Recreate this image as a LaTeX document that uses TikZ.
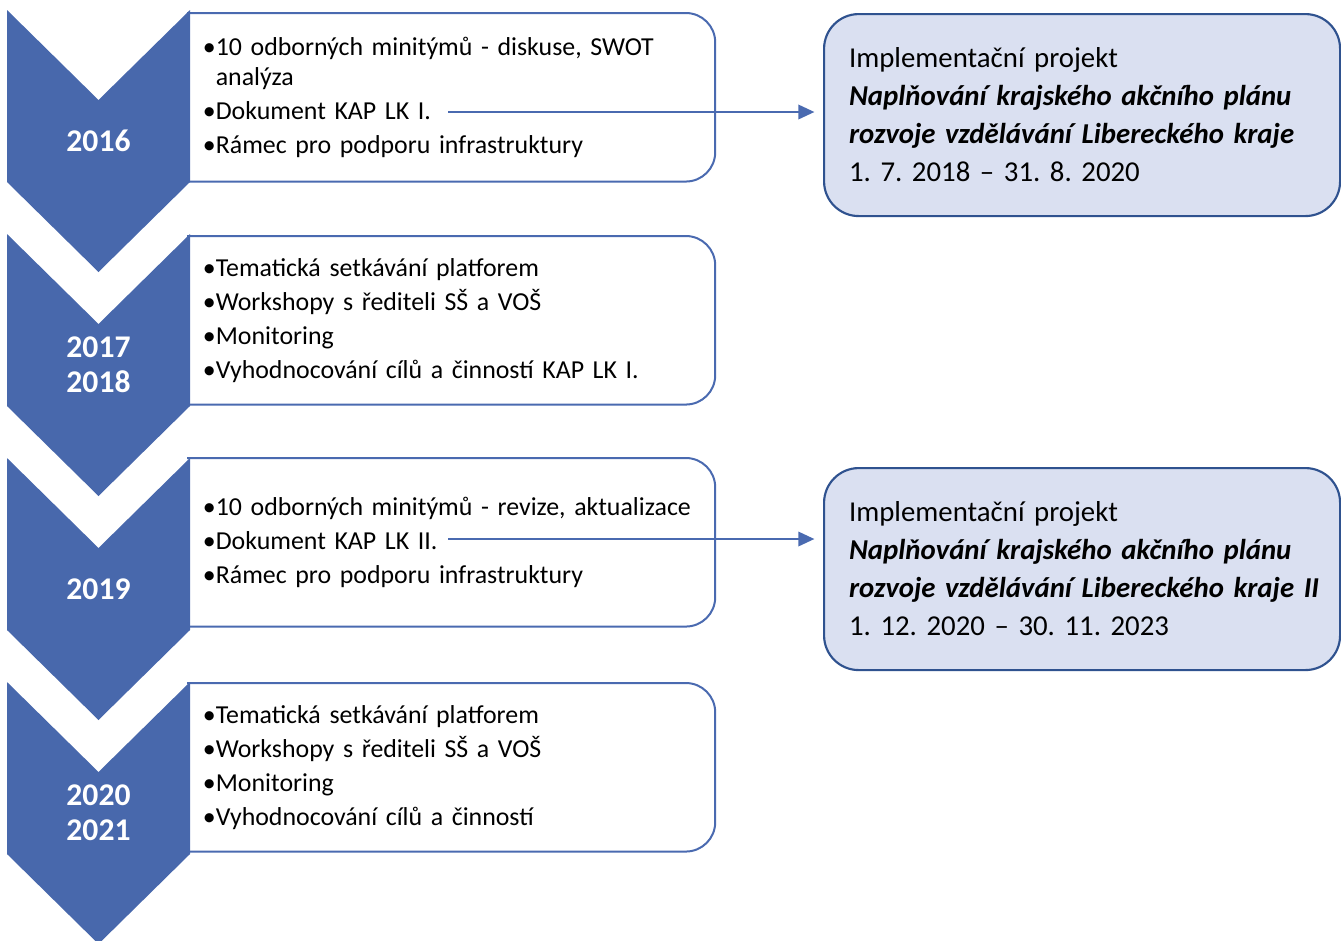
\documentclass[tikz,border=0pt]{standalone}
\usepackage{fontspec}
\setmainfont{Carlito}
\frenchspacing
\usetikzlibrary{arrows.meta,positioning,calc}
\definecolor{chev}{RGB}{72,104,172}
\definecolor{actedge}{RGB}{74,106,176}
\definecolor{projedge}{RGB}{47,82,143}
\definecolor{projbg}{RGB}{218,224,241}
\newcommand{\itm}{\textbullet}
\newcommand{\itmgap}{\phantom{\textbullet}}
\tikzset{
  chevron/.style={fill=chev,draw=none},
  yearlbl/.style={text=white,align=center,inner sep=0pt,
                  font=\fontsize{23.7}{26.25}\selectfont\bfseries},
  actbox/.style={anchor=north west,minimum height=126pt,inner xsep=11pt,
                 text width=373pt,align=left,font=\fontsize{19.4}{22.5}\selectfont},
  actline/.style={draw=actedge,line width=1.5pt,rounded corners=22pt,line cap=rect},
  projbox/.style={anchor=north west,draw=projedge,fill=projbg,line width=1.6pt,
                  rounded corners=26pt,minimum height=151.5pt,inner xsep=18.75pt,
                  text width=349.5pt,align=left,font=\fontsize{21.6}{28.5}\selectfont},
  flow/.style={-{Triangle[length=12pt,width=11pt]},draw=actedge,line width=1pt,
               shorten >=6.5pt},
}

\begin{document}
\begin{tikzpicture}[x=0.75pt,y=-0.75pt]
  \useasboundingbox (0,0) rectangle (1341,940);

  % activity boxes
  \node[actbox] (act1) at (188,13)
    {\itm10 odborných minitýmů - diskuse, SWOT\\\itmgap analýza\\[3pt]
     \itm Dokument KAP LK I.\\[3pt]
     \itm Rámec pro podporu infrastruktury};
  \node[actbox] (act2) at (188,236)
    {\itm Tematická setkávání platforem\\[3pt]
     \itm Workshopy s řediteli SŠ a VOŠ\\[3pt]
     \itm Monitoring\\[3pt]
     \itm Vyhodnocování cílů a činností KAP LK I.};
  \node[actbox] (act3) at (188,458)
    {\mbox{\itm10 odborných minitýmů - revize, aktualizace}\\[3pt]
     \itm Dokument KAP LK II.\\[3pt]
     \itm Rámec pro podporu infrastruktury};
  \node[actbox] (act4) at (188,683)
    {\itm Tematická setkávání platforem\\[3pt]
     \itm Workshopy s řediteli SŠ a VOŠ\\[3pt]
     \itm Monitoring\\[3pt]
     \itm Vyhodnocování cílů a činností};
  \foreach \b in {act1,act2,act3,act4}
    \draw[actline] (\b.north west) -- (\b.north east) -- (\b.south east) -- (\b.south west);

  % chevrons
  \foreach \t in {10,234,458,682}
    \fill[chevron] (7,\t) -- (98.5,\t+90) -- (190,\t) -- (190,\t+172)
      -- (98.5,\t+262) -- (7,\t+172) -- cycle;

  \node[yearlbl] (y16)   at (98.5,141) {2016};
  \node[yearlbl] (y1718) at (98.5,365) {2017\\2018};
  \node[yearlbl] (y19)   at (98.5,589) {2019};
  \node[yearlbl] (y2021) at (98.5,813) {2020\\2021};

  % implementation projects
  \node[projbox] (proj1) at (823,13)
    {Implementační projekt\\
     \textbf{\textit{Naplňování krajského akčního plánu}}\\
     \textbf{\textit{rozvoje vzdělávání Libereckého kraje}}\\
     1. 7. 2018 – 31. 8. 2020\\[2pt]};
  \node[projbox] (proj2) at (823,467)
    {Implementační projekt\\
     \textbf{\textit{Naplňování krajského akčního plánu}}\\
     \mbox{\textbf{\textit{rozvoje vzdělávání Libereckého kraje II}}}\\
     1. 12. 2020 – 30. 11. 2023\\[2pt]};

  \coordinate (d1) at (448,112);
  \coordinate (d2) at (448,539);
  \draw[flow] (d1) -- (d1 -| proj1.west);
  \draw[flow] (d2) -- (d2 -| proj2.west);
\end{tikzpicture}
\end{document}
